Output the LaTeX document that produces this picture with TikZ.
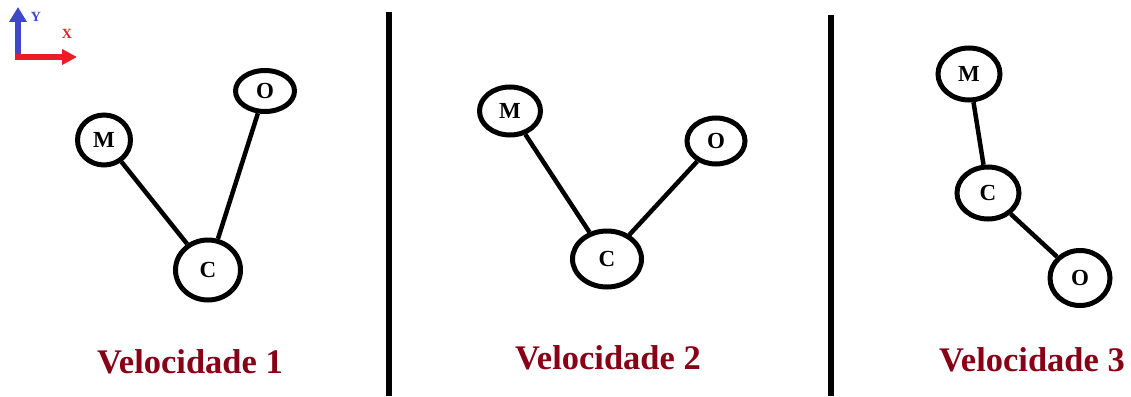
\documentclass[tikz,border=0pt]{standalone}
\usepackage{fontspec}
\setmainfont{Liberation Serif}
\usetikzlibrary{shapes.geometric,arrows.meta}
\definecolor{dred}{HTML}{880015}
\definecolor{pblue}{HTML}{3F48CC}
\definecolor{pred}{HTML}{ED1C24}
\begin{document}
\begin{tikzpicture}[x=1pt,y=-1pt,
  atom/.style={ellipse,draw=black,line width=5pt,fill=white,inner sep=0pt,
    font=\fontsize{23}{25}\selectfont\bfseries},
  bond/.style={line width=4.5pt},
  title/.style={font=\fontsize{34.5}{38}\selectfont\bfseries,text=dred},
  divider/.style={line width=6pt},
  axlabel/.style={font=\fontsize{14}{15}\selectfont\bfseries,inner sep=0pt}]
\useasboundingbox (0,0) rectangle (1131,396);
% axes icon
\coordinate (o) at (18,57);
\coordinate (yend) at (18,7);
\coordinate (xend) at (77,57);
\draw[pblue,line width=6pt,-{Triangle[width=17pt,length=15pt]}] ([yshift=3pt]o) -- (yend);
\draw[pred,line width=6pt,-{Triangle[width=15pt,length=15pt]}] ([xshift=-3pt]o) -- (xend);
\node[axlabel,text=pblue] (ylab) at (36,17) {Y};
\node[axlabel,text=pred] (xlab) at (67,34) {X};
% dividers
\coordinate (d1t) at (389,12);
\coordinate (d1b) at (389,396);
\coordinate (d2t) at (831,15);
\coordinate (d2b) at (831,396);
\draw[divider] (d1t) -- (d1b);
\draw[divider] (d2t) -- (d2b);
% panel 1
\node[atom,minimum width=53pt,minimum height=50pt] (m1) at (104,140) {M};
\node[atom,minimum width=59pt,minimum height=41pt] (o1) at (265,91) {O};
\node[atom,minimum width=65pt,minimum height=60pt] (c1) at (208,270) {C};
\draw[bond] (m1) -- (c1);
\draw[bond] (o1) -- (c1);
\node[title] (t1) at (190,362) {Velocidade 1};
% panel 2
\node[atom,minimum width=61pt,minimum height=48pt] (m2) at (510,111) {M};
\node[atom,minimum width=58pt,minimum height=46pt] (o2) at (716,141) {O};
\node[atom,minimum width=69pt,minimum height=56pt] (c2) at (607,259) {C};
\draw[bond] (m2) -- (c2);
\draw[bond] (o2) -- (c2);
\node[title] (t2) at (608,358) {Velocidade 2};
% panel 3
\node[atom,minimum width=62pt,minimum height=52pt] (m3) at (969,74) {M};
\node[atom,minimum width=62pt,minimum height=52pt] (c3) at (988,193) {C};
\node[atom,minimum width=60pt,minimum height=55pt] (o3) at (1080,278) {O};
\draw[bond] (m3) -- (c3);
\draw[bond] (c3) -- (o3);
\node[title] (t3) at (1032,360) {Velocidade 3};
\end{tikzpicture}
\end{document}
